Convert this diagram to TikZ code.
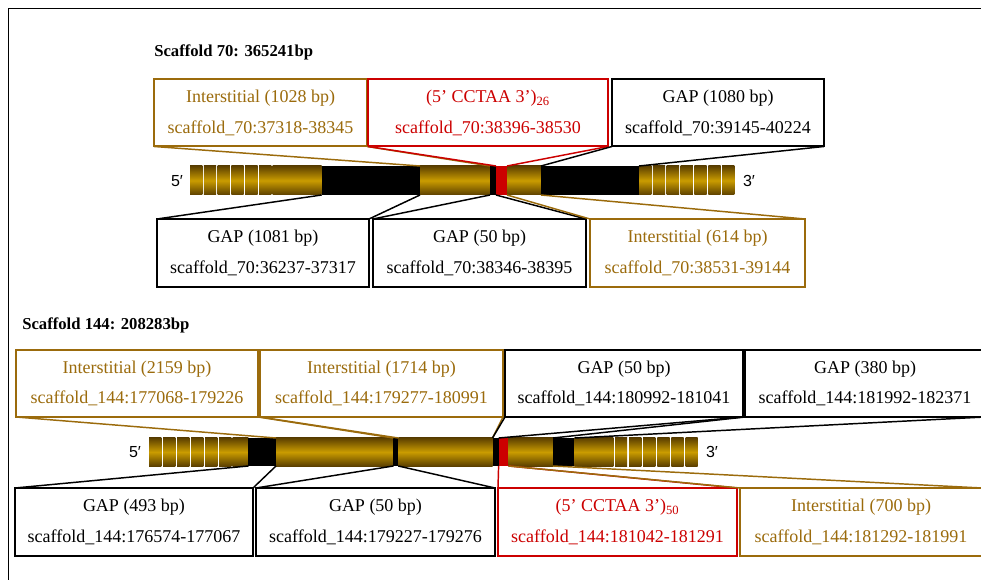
\documentclass[tikz,border=0pt]{standalone}
\usepackage{fontspec}
\setmainfont{Liberation Serif}
\setsansfont{Liberation Sans}
\usepackage{tikz}
\usetikzlibrary{calc}
\definecolor{intbrown}{RGB}{155,107,12}
\definecolor{repred}{RGB}{204,0,0}
\definecolor{bargold}{RGB}{202,156,0}
\definecolor{bardark}{RGB}{92,64,0}
\newcommand{\px}{0.75pt}

\tikzset{
  info/.style={draw, line width=1.5pt, fill=white, inner sep=0pt, outer sep=0pt,
    align=center, font=\fontsize{13.5}{23}\selectfont, minimum height=67*\px, minimum width=#1*\px},
  gapinfo/.style={info=#1, draw=black, text=black},
  intinfo/.style={info=#1, draw=intbrown, text=intbrown},
  repinfo/.style={info=#1, draw=repred, text=repred},
  seg/.style={rectangle, inner sep=0pt, outer sep=0pt, anchor=west, minimum width=#1*\px},
  goldseg/.style={seg=#1, top color=bardark, bottom color=bardark, middle color=bargold},
  gapseg/.style={seg=#1, fill=black},
  repseg/.style={seg=#1, fill=repred},
  link/.style={line width=1.1pt},
  endlabel/.style={font=\sffamily\fontsize{12}{14}\selectfont},
  title/.style={anchor=west, inner sep=0pt, font=\bfseries\fontsize{12.5}{15}\selectfont},
}

\begin{document}
\begin{tikzpicture}[>=stealth, x=0.75pt, y=-0.75pt] % 按像素坐标
  \useasboundingbox (0,0) rectangle (981,580);
  \clip (0,0) rectangle (981,580);
  \draw[line width=1.1pt] (8.5,585) -- (8.5,8.5) -- (990,8.5);

  % Scaffold 70
  \node[title] (ttl70) at (154,52) {Scaffold 70: 365241bp};

  \node[intinfo=213] (t70a) at (260.5,113) {Interstitial (1028 bp)\\scaffold\_70:37318-38345};
  \node[repinfo=240] (t70b) at (488,113) {(5’ CCTAA 3’)\textsubscript{26}\\scaffold\_70:38396-38530};
  \node[gapinfo=212] (t70c) at (718,113) {GAP (1080 bp)\\scaffold\_70:39145-40224};

  \node[gapinfo=212, minimum height=68*\px] (b70a) at (263,253) {GAP (1081 bp)\\scaffold\_70:36237-37317};
  \node[gapinfo=213, minimum height=68*\px] (b70b) at (479.5,253) {GAP (50 bp)\\scaffold\_70:38346-38395};
  \node[intinfo=215, minimum height=68*\px] (b70c) at (697.5,253) {Interstitial (614 bp)\\scaffold\_70:38531-39144};

  \begin{scope}[every node/.append style={minimum height=29*\px}]
    \foreach \i in {0,...,5}
      \node[goldseg=12.3] (l70\i) at ({190+13.8*\i},180.5) {};
    \node[goldseg=49.2] (a70) at (272.5,180.5) {};
    \node[gapseg=98.3] (g70a) at (a70.east) {};
    \node[goldseg=70] (i70a) at (g70a.east) {};
    \node[gapseg=6] (g70b) at (i70a.east) {};
    \node[repseg=11] (r70) at (g70b.east) {};
    \node[goldseg=34] (i70b) at (r70.east) {};
    \node[gapseg=98] (g70c) at (i70b.east) {};
    \foreach \i in {0,...,6}
      \node[goldseg=12.3] (e70\i) at ({639+13.85*\i},180.5) {};
  \end{scope}
  \node[endlabel] (p70a) at (177,181) {5′};
  \node[endlabel] (p70b) at (749,181) {3′};

  \draw[link, intbrown] (t70a.south west) -- (i70a.north west) (t70a.south east) -- (i70a.north east);
  \draw[link, repred] (t70b.south west) -- (r70.north west) (t70b.south east) -- (r70.north east);
  \draw[link] (t70c.south west) -- (g70c.north west) (t70c.south east) -- (g70c.north east);
  \draw[link] (b70a.north west) -- (g70a.south west) (b70a.north east) -- (g70a.south east);
  \draw[link] (b70b.north west) -- (g70b.south west) (b70b.north east) -- (g70b.south east);
  \draw[link, intbrown] (b70c.north west) -- (i70b.south west) (b70c.north east) -- (i70b.south east);

  % Scaffold 144
  \node[title] (ttl144) at (22,325) {Scaffold 144: 208283bp};

  \node[intinfo=242] (t144a) at (137,383.5) {Interstitial (2159 bp)\\scaffold\_144:177068-179226};
  \node[intinfo=243] (t144b) at (381.5,383.5) {Interstitial (1714 bp)\\scaffold\_144:179277-180991};
  \node[gapinfo=238] (t144c) at (624,383.5) {GAP (50 bp)\\scaffold\_144:180992-181041};
  \node[gapinfo=240] (t144d) at (865,383.5) {GAP (380 bp)\\scaffold\_144:181992-182371};

  \node[gapinfo=238, minimum height=68*\px] (b144a) at (134,522) {GAP (493 bp)\\scaffold\_144:176574-177067};
  \node[gapinfo=239, minimum height=68*\px] (b144b) at (375.5,522) {GAP (50 bp)\\scaffold\_144:179227-179276};
  \node[repinfo=239, minimum height=68*\px] (b144c) at (617.5,522) {(5’ CCTAA 3’)\textsubscript{50}\\scaffold\_144:181042-181291};
  \node[intinfo=242, minimum height=68*\px] (b144d) at (861,522) {Interstitial (700 bp)\\scaffold\_144:181292-181991};

  \begin{scope}[every node/.append style={minimum height=28*\px}]
    \foreach \i in {0,...,5}
      \node[goldseg=12.3] (l144\i) at ({149+14*\i},452) {};
    \node[goldseg=15.6] (a144) at (232.7,452) {};
    \node[gapseg=27.7] (g144a) at (a144.east) {};
    \node[goldseg=117.3] (i144a) at (g144a.east) {};
    \node[gapseg=5] (g144b) at (i144a.east) {};
    \node[goldseg=94.2] (i144b) at (g144b.east) {};
    \node[gapseg=6.1] (g144c) at (i144b.east) {};
    \node[repseg=10] (r144) at (g144c.east) {};
    \node[goldseg=44.4] (i144c) at (r144.east) {};
    \node[gapseg=21.6] (g144d) at (i144c.east) {};
    \node[goldseg=38.8] (z144) at (g144d.east) {};
    \foreach \i in {0,...,5}
      \node[goldseg=12.2] (e144\i) at ({615+14.1*\i},452) {};
  \end{scope}
  \node[endlabel] (p144a) at (135,452) {5′};
  \node[endlabel] (p144b) at (712,452) {3′};

  \draw[link, intbrown] (t144a.south west) -- (i144a.north west) (t144a.south east) -- (i144a.north east);
  \draw[link, intbrown] (t144b.south west) -- (i144b.north west) (t144b.south east) -- (i144b.north east);
  \draw[link] (t144c.south west) -- (g144c.north west) (t144c.south east) -- (g144c.north east);
  \draw[link] (t144d.south west) -- (g144d.north west) (t144d.south east) -- (g144d.north east);
  \draw[link] (b144a.north west) -- (g144a.south west) (b144a.north east) -- (g144a.south east);
  \draw[link] (b144b.north west) -- (g144b.south west) (b144b.north east) -- (g144b.south east);
  \draw[link, repred] (b144c.north west) -- (r144.south west) (b144c.north east) -- (r144.south east);
  \draw[link, intbrown] (b144d.north west) -- (i144c.south west) (b144d.north east) -- (i144c.south east);
\end{tikzpicture}
\end{document}
